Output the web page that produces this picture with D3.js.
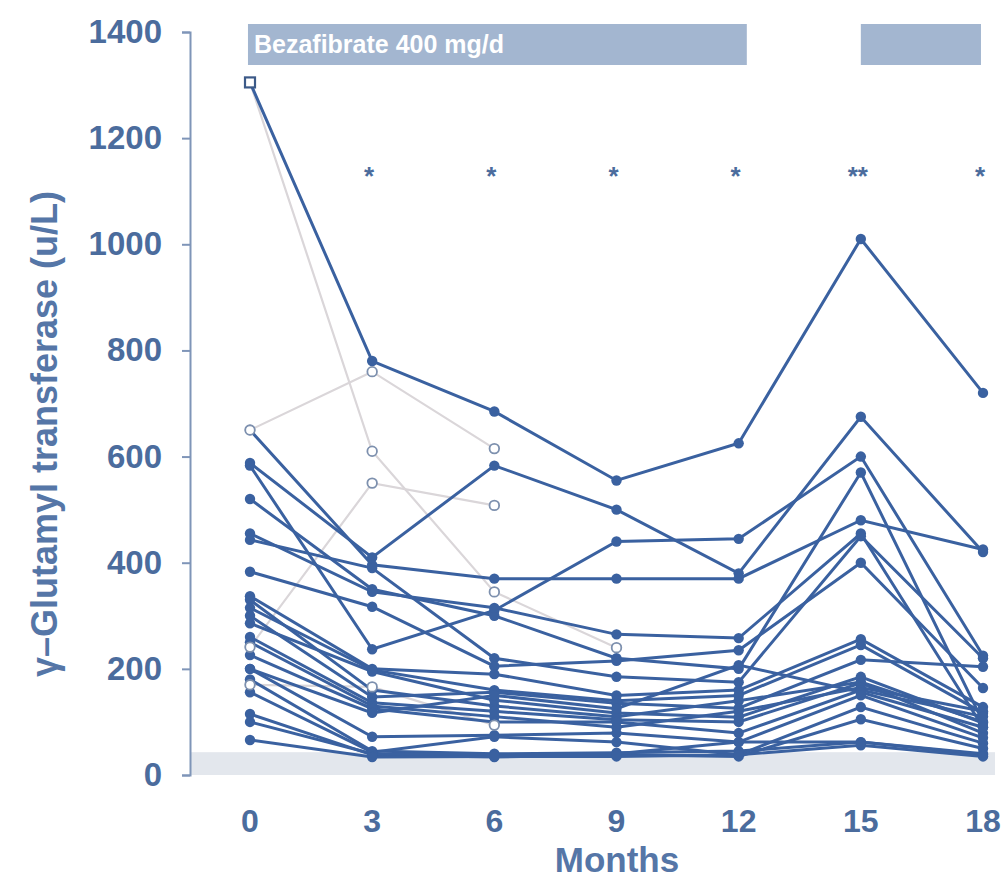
<!DOCTYPE html>
<html lang="en">
<head>
<meta charset="UTF-8">
<title>GGT under bezafibrate</title>
<script src="https://d3js.org/d3.v7.min.js"></script>
<style>
  body { margin: 0; background: #fff; }
  svg { display: block; font-family: "Liberation Sans", Arial, sans-serif; }
</style>
</head>
<body>
<svg width="1002" height="882"></svg>
<script>
// months measured
var months = [0, 3, 6, 9, 12, 15, 18];
var yTicks = [0, 200, 400, 600, 800, 1000, 1200, 1400];

// patients on treatment (filled dots), u/L at each month
var patients = [
  [1305, 780, 685, 555, 625, 1010, 720],
  [588, 410, 583, 500, 380, 675, 420],
  [583, 237, 310, 440, 445, 600, 225],
  [520, 350, 300, 220, 200, 570, 100],
  [650, 396, 370, 370, 370, 480, 425],
  [455, 345, 315, 265, 258, 455, 90],
  [443, 390, 220, 185, 175, 450, 220],
  [383, 317, 205, 215, 235, 400, 164],
  [337, 200, 190, 150, 160, 256, 128],
  [330, 160, 130, 110, 140, 175, 100],
  [315, 198, 160, 140, 150, 245, 117],
  [300, 147, 156, 135, 126, 217, 204],
  [286, 195, 141, 117, 109, 185, 98],
  [260, 136, 120, 104, 100, 173, 79],
  [250, 130, 110, 90, 120, 165, 120],
  [226, 125, 100, 100, 79, 160, 110],
  [200, 117, 150, 125, 207, 156, 90],
  [200, 72, 75, 79, 62, 150, 70],
  [180, 45, 40, 42, 45, 62, 40],
  [156, 43, 72, 62, 38, 128, 60],
  [115, 38, 34, 38, 35, 105, 50],
  [100, 40, 38, 40, 62, 62, 38],
  [66, 34, 35, 35, 38, 56, 35]
];

// drop-outs (open circles, light lines)
var dropouts = [
  [1305, 610, 345, 240, null, null, null],
  [650, 760, 615, null, null, null, null],
  [241, 550, 508, null, null, null, null],
  [170, 166, 94, null, null, null, null]
];

var stars = ["*", "*", "*", "*", "**", "*"];
var starMonths = [3, 6, 9, 12, 15, 18];

var treatment = [
  {from: -0.05, to: 12.2, label: "Bezafibrate 400 mg/d"},
  {from: 15, to: 17.95, label: ""}
];

var blue = "#3a61a0", textBlue = "#4b6c9d";

var svg = d3.select("svg");
var x = d3.scaleLinear().domain([0, 18]).range([250, 983]);
var y = d3.scaleLinear().domain([0, 1400]).range([775, 32]);

// normal range band
svg.append("rect")
  .attr("x", 190).attr("width", 805)
  .attr("y", y(43)).attr("height", y(0) - y(43))
  .style("fill", "#e3e7ed");

// treatment bars
var bars = svg.selectAll(".bar").data(treatment).enter().append("g");
bars.append("rect")
  .attr("x", d => x(d.from)).attr("width", d => x(d.to) - x(d.from))
  .attr("y", 24).attr("height", 41)
  .style("fill", "#a3b6d0");
bars.append("text")
  .attr("x", d => x(d.from) + 6).attr("y", 53)
  .text(d => d.label)
  .style("fill", "#fff").style("font-weight", "bold").style("font-size", "25px");

// significance stars
svg.selectAll(".star").data(stars).enter().append("text")
  .attr("x", (d, i) => x(starMonths[i]) - 3)
  .attr("y", 185)
  .attr("text-anchor", "middle")
  .text(d => d)
  .style("fill", textBlue).style("font-weight", "bold").style("font-size", "26px");

// y axis
var yAxis = svg.append("g")
  .attr("transform", "translate(190,0)")
  .call(d3.axisLeft(y).tickValues(yTicks).tickFormat(d3.format("d"))
    .tickSize(8).tickSizeOuter(8).tickPadding(20));
yAxis.selectAll("path, line").style("stroke", "#7f95b8").style("stroke-width", 2);
yAxis.selectAll("text")
  .style("fill", textBlue).style("font-weight", "bold").style("font-size", "33px")
  .style("font-family", "Liberation Sans, Arial, sans-serif");

// x tick labels
svg.selectAll(".xt").data(months).enter().append("text")
  .attr("x", d => x(d)).attr("y", 832)
  .attr("text-anchor", "middle")
  .text(d => d)
  .style("fill", textBlue).style("font-weight", "bold").style("font-size", "32px");

svg.append("text")
  .attr("x", 617).attr("y", 872)
  .attr("text-anchor", "middle")
  .text("Months")
  .style("fill", "#5576a7").style("font-weight", "bold").style("font-size", "35px");

svg.append("text")
  .attr("transform", "translate(57,434) rotate(-90)")
  .attr("text-anchor", "middle")
  .text("\u03b3\u2013Glutamyl transferase (u/L)")
  .style("fill", "#5576a7").style("font-weight", "bold").style("font-size", "36px");

var line = d3.line()
  .defined(d => d != null)
  .x((d, i) => x(months[i]))
  .y(d => y(d));

function pts(row) {
  return row.map((v, i) => ({m: months[i], v: v})).filter(p => p.v != null);
}

// light drop-out lines
svg.selectAll(".drop").data(dropouts).enter().append("path")
  .attr("d", line)
  .style("fill", "none").style("stroke", "#dad6d9").style("stroke-width", 2.2);

// patient lines
svg.selectAll(".pat").data(patients).enter().append("path")
  .attr("d", line)
  .style("fill", "none").style("stroke", blue).style("stroke-width", 3);

var dots = svg.selectAll(".pg").data(patients).enter().append("g");
dots.selectAll("circle").data(d => pts(d).filter((p, i) => !(p.m === 0 && p.v > 1000))).enter()
  .append("circle")
  .attr("cx", p => x(p.m)).attr("cy", p => y(p.v)).attr("r", 5.2)
  .style("fill", blue);

// open circles for drop-outs
var open = svg.selectAll(".og").data(dropouts).enter().append("g");
open.selectAll("circle").data(d => pts(d).filter(p => !(p.m === 0 && p.v > 1000))).enter()
  .append("circle")
  .attr("cx", p => x(p.m)).attr("cy", p => y(p.v)).attr("r", 4.8)
  .style("fill", "#fff").style("stroke", "#7d90ae").style("stroke-width", 1.8);

// open square at month 0 for the highest value
svg.append("rect")
  .attr("x", x(0) - 5).attr("y", y(patients[0][0]) - 5)
  .attr("width", 10).attr("height", 10)
  .style("fill", "#fff").style("stroke", "#3c5a88").style("stroke-width", 2.2);
</script>
</body>
</html>
